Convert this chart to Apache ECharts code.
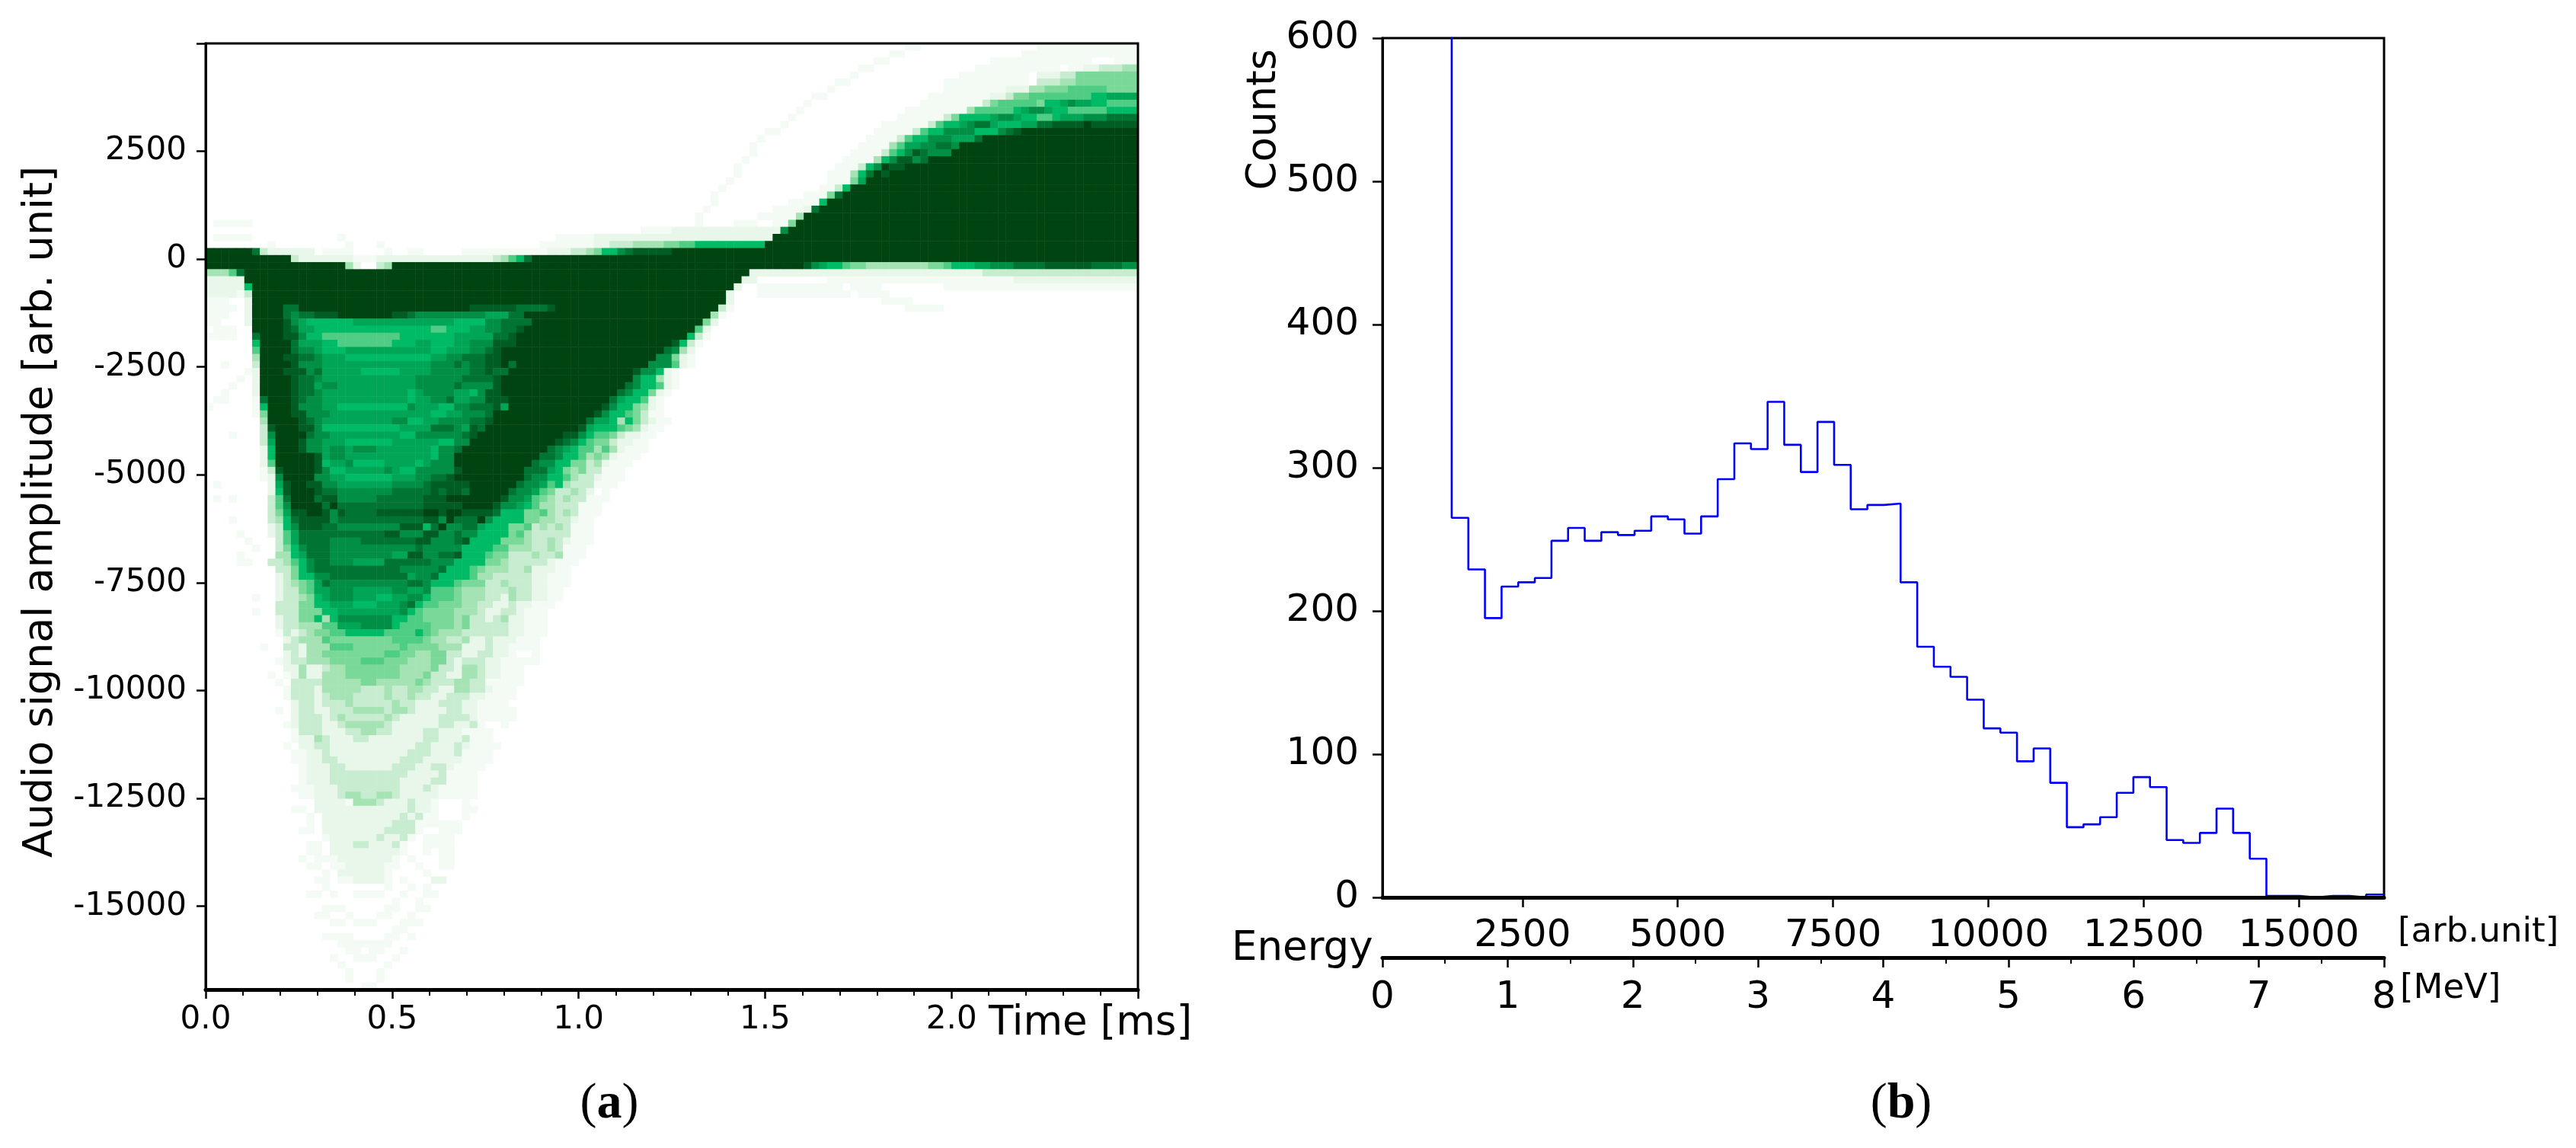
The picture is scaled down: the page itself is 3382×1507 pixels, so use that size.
<!DOCTYPE html>
<html>
<head>
<meta charset="utf-8">
<title>Audio signal and energy spectrum</title>
<script src="https://cdn.jsdelivr.net/npm/echarts@6/dist/echarts.min.js"></script>
<style>
  html, body { margin: 0; padding: 0; background: #fff; }
  #chart { width: 3382px; height: 1507px; }
</style>
</head>
<body>
<div id="chart"></div>
<script>
// --- panel (a): time / amplitude histogram ---
const timeBins = 120;
const ampBins = 134;
// each row: start column, shade, start column, shade ... a run lasts until the next start
const heatRowsTop = [
  [90,1,92,0,107,1],
  [88,1,90,0,105,1],
  [86,1,88,0,101,1,114,0,117,1],
  [84,1,86,0,99,1,110,0,111,1,113,2,115,3,118,4],
  [83,1,84,0,97,1,106,0,107,2,110,3,112,5],
  [81,1,83,0,95,1,106,0,107,3,110,4,112,5],
  [80,1,81,0,95,1,103,2,106,4,108,5,111,6,116,5],
  [78,1,80,0,93,1,101,2,103,3,104,5,106,6,114,7,116,8],
  [77,1,78,0,92,1,100,3,101,5,102,6,107,5,108,7,110,8,111,9,112,8,114,7,116,6],
  [76,1,77,0,90,1,98,4,99,6,104,7,105,8,106,9,108,8,109,7,111,6,116,7],
  [75,1,76,0,89,1,95,3,96,5,97,7,101,8,102,9,104,8,105,7,107,6,109,7,110,8,113,9,116,10],
  [74,1,75,0,87,1,93,3,94,6,95,7,97,8,98,9,99,10,101,8,102,7,105,8,107,10,109,11,113,12,114,11],
  [72,1,74,0,86,1,91,3,92,6,93,7,95,9,99,7,102,9,103,10,104,11,105,12],
  [71,1,72,0,85,1,89,3,90,6,91,7,93,9,96,8,99,10,100,12],
  [70,1,71,0,84,1,88,4,89,6,90,8,92,9,94,10,96,9,97,12],
  [70,1,71,0,83,1,87,3,88,6,89,7,90,9,91,11,92,10,93,9,96,12],
  [69,1,70,0,82,1,86,4,87,7,88,9,89,11,91,9,92,10,93,12],
  [68,1,69,0,81,1,84,3,85,7,86,9,87,12,88,11,90,12],
  [68,1,69,0,80,1,83,4,84,7,85,10,86,12,87,11,88,12],
  [67,1,68,0,80,1,83,5,84,8,85,12],
  [66,1,67,0,79,1,81,3,82,7,83,12],
  [65,1,66,0,77,1,80,5,81,10,82,12],
  [65,1,66,0,75,1,79,7,80,12],
  [64,1,65,0,73,1,77,2,78,10,79,12],
  [63,1,64,0,71,1,76,4,77,12],
  [1,1,6,0,63,1,64,0,68,1,71,0,73,1,75,5,76,12],
  [56,1,60,2,74,9,75,12],
  [1,1,6,0,17,1,18,0,45,1,50,2,73,12],
  [8,1,9,0,18,1,19,0,22,1,23,0,43,1,50,2,52,3,55,4,59,5,61,6,63,7,72,12]
];
const heatRowsBody = [
  [0,12,6,10,7,3,8,2,14,0,15,1,19,0,23,1,24,0,26,1,28,0,33,1,44,2,47,3,49,4,50,5,51,7,53,9,54,10,55,11,60,12],
  [0,12,11,3,12,2,19,1,22,2,37,3,38,4,39,6,40,7,41,10,42,12],
  [0,12,18,4,19,2,20,0,22,3,23,4,24,12,77,11,78,9,79,8,80,7,82,6,83,5,85,4,93,5,95,6,96,7,99,8,101,9,104,10,108,11,114,10,118,9],
  [0,4,3,6,4,10,5,12,70,2,100,3],
  [0,2,5,12,69,2,71,0,80,1,104,2],
  [0,2,5,7,6,12,68,2,69,0,71,1,82,0,83,1,87,0,95,1],
  [0,2,4,1,5,3,6,12,67,2,68,0,71,1,83,0,84,1,88,0],
  [0,1,3,0,5,2,6,12,67,2,68,0,87,1,91,0],
  [0,1,4,0,5,2,6,12,10,10,12,12,34,11,40,10,44,11,45,12,66,3,67,1,68,0,90,1,95,0],
  [0,1,3,0,5,2,6,12,10,10,11,9,12,10,14,11,17,12,24,11,26,10,27,9,36,8,39,10,41,12,65,4,66,1,67,0],
  [0,1,2,0,5,2,6,12,10,11,11,9,12,8,13,7,19,8,32,7,36,9,38,10,42,12,64,5,65,2,66,0],
  [1,1,4,0,6,12,10,11,11,10,12,8,14,7,29,6,31,7,34,8,36,9,38,10,40,11,41,12,63,6,64,2,65,0],
  [0,1,4,0,6,10,7,12,10,11,12,9,13,7,15,6,25,7,28,7,32,8,37,10,39,11,40,12,62,7,63,3,64,1,65,0],
  [6,7,7,12,10,12,11,10,12,8,15,7,17,6,24,7,27,8,29,7,32,8,34,9,37,11,40,12,60,11,61,7,62,3,63,1,64,0],
  [6,6,7,12,11,10,12,9,14,8,15,7,18,8,29,7,31,8,34,9,36,10,37,11,38,12,59,10,60,9,61,4,62,2,63,0],
  [6,4,7,12,10,11,12,10,14,9,15,8,18,7,29,8,31,9,33,10,36,11,38,12,58,9,60,5,61,2,62,1,63,0],
  [2,1,3,0,6,3,7,12,11,11,12,9,15,8,29,9,32,10,33,9,34,10,36,11,38,12,39,10,40,12,57,9,60,6,61,2,62,1,63,0],
  [5,1,6,2,7,12,10,11,13,9,14,10,15,8,20,7,25,8,29,9,34,10,36,11,37,10,39,12,55,11,56,9,58,7,59,2,60,1,61,0],
  [4,1,5,0,6,2,7,12,11,11,12,10,14,9,15,8,27,9,33,10,37,11,38,12,55,9,56,7,58,4,59,2,60,1,61,0],
  [3,1,4,0,6,2,7,12,11,11,12,10,14,8,15,9,17,8,27,9,32,10,33,9,37,11,38,12,54,10,55,9,56,7,58,6,59,2,60,1,61,0],
  [2,1,3,0,6,2,7,12,11,11,12,10,14,9,15,8,26,7,27,8,28,9,32,8,34,7,35,9,36,11,38,12,53,10,54,9,55,7,57,5,58,2,59,1,60,0],
  [1,1,3,0,6,1,7,10,8,12,11,11,12,10,13,9,15,8,26,7,27,8,29,9,31,10,32,8,34,9,36,11,39,12,52,10,53,8,54,7,56,6,57,2,58,1,59,0],
  [0,1,1,0,6,1,7,7,8,12,11,11,12,9,15,8,17,7,26,9,27,8,30,7,32,9,34,10,37,11,38,8,39,12,51,11,52,9,53,7,55,5,56,4,57,2,58,1,59,0],
  [6,1,7,5,8,12,11,11,13,9,16,8,29,7,31,8,33,9,36,10,37,12,50,11,51,9,52,7,54,6,55,5,56,3,57,1,59,0],
  [7,4,8,12,12,11,13,10,14,9,15,8,24,9,26,7,28,8,30,9,34,10,36,11,37,12,49,10,50,8,52,7,53,4,54,7,55,5,56,3,57,2,58,1,60,0],
  [7,3,8,11,9,12,12,11,14,9,15,7,25,8,29,10,32,9,33,8,34,11,35,10,36,12,48,11,49,8,50,7,53,6,54,5,55,4,56,2,57,1,59,0],
  [3,1,4,0,7,3,8,9,9,12,12,12,13,10,14,9,16,8,25,7,27,9,33,10,34,11,35,12,46,11,48,9,49,7,50,6,52,5,53,3,54,2,56,1,58,0],
  [7,3,8,8,9,12,12,11,13,9,15,8,18,7,24,8,30,7,32,9,34,12,45,11,46,10,47,9,48,7,49,6,50,5,52,3,53,2,55,1,57,0],
  [7,2,8,7,9,12,12,11,13,9,15,8,16,9,18,8,19,9,22,8,29,7,30,9,32,10,33,12,44,10,45,9,46,8,47,7,48,6,50,4,51,6,52,4,53,2,54,1,57,0],
  [7,2,8,7,9,12,14,11,15,8,16,9,18,8,29,7,30,9,32,12,43,10,45,9,46,7,48,6,49,4,50,5,51,4,52,2,53,1,56,0],
  [7,2,8,6,9,12,14,11,15,7,16,8,18,9,19,7,23,8,27,7,28,8,29,9,32,12,42,10,43,9,45,7,47,5,49,3,50,4,51,2,52,1,55,0],
  [7,1,8,3,9,11,10,12,14,11,15,9,16,7,18,8,23,9,24,8,25,7,27,9,32,11,33,12,41,10,44,8,45,7,46,5,47,4,48,5,49,3,51,1,54,0]
];
const heatRowsCore = [
  [7,1,8,2,9,9,10,12,14,9,16,8,18,7,24,8,27,9,29,10,31,11,32,12,41,10,42,9,44,7,46,6,47,4,48,3,50,2,51,1,54,0],
  [1,1,2,0,8,2,9,8,10,11,11,12,13,11,15,9,17,8,24,9,28,10,29,11,34,12,40,10,41,9,43,8,44,6,45,7,46,4,47,3,50,1,53,0],
  [8,2,9,7,10,11,11,12,14,11,15,10,17,9,24,10,29,11,30,10,31,11,33,10,34,12,39,10,40,9,42,8,43,6,44,5,45,3,47,4,48,3,49,2,50,0,51,1,52,0],
  [1,1,2,0,3,1,4,0,8,3,9,6,10,10,11,12,14,10,15,11,17,9,22,10,28,11,31,12,38,11,39,9,41,8,42,6,43,5,44,4,45,3,46,4,47,3,49,1,52,0],
  [8,3,9,6,10,9,11,12,15,10,16,12,17,10,28,11,33,12,37,11,38,9,40,8,41,7,42,6,43,4,45,3,48,1,51,0],
  [8,3,9,5,10,8,11,11,13,12,15,11,16,9,17,11,18,10,22,11,28,12,30,11,31,12,33,11,37,10,38,7,41,5,43,6,44,4,45,3,46,4,47,3,48,1,51,0],
  [3,1,4,0,8,3,9,4,10,7,11,10,12,11,16,9,17,10,28,11,30,9,31,12,32,10,35,12,36,9,37,7,41,5,43,4,45,3,47,2,48,1,50,0],
  [8,2,9,3,10,7,11,9,12,11,15,10,17,9,25,11,28,7,29,10,30,12,31,9,33,10,35,8,36,7,39,5,41,6,42,3,43,4,44,3,45,4,46,3,47,1,50,0],
  [4,1,5,0,8,2,9,3,10,6,11,8,12,10,23,11,25,9,28,11,30,9,32,10,33,9,35,7,39,5,40,6,41,4,42,3,47,1,50,0],
  [5,1,6,0,9,3,10,6,11,8,12,10,16,9,20,10,27,11,29,9,32,10,33,11,34,7,38,5,41,4,42,3,44,4,45,3,46,2,47,1,50,0],
  [6,1,7,0,9,3,10,5,11,7,12,9,13,10,16,9,27,10,28,9,33,7,37,6,39,4,42,3,44,4,45,3,46,1,49,0],
  [4,1,5,0,9,4,11,7,12,8,13,10,16,9,24,8,26,11,28,9,30,10,32,11,33,7,36,6,37,5,39,3,42,4,43,3,45,4,46,1,49,0],
  [4,1,6,0,8,3,10,4,11,6,12,7,13,9,14,10,16,9,19,8,23,10,29,9,32,7,36,5,38,4,39,3,44,2,45,1,48,0],
  [9,3,11,5,12,7,13,9,14,10,25,9,30,10,31,7,34,6,35,5,36,4,39,3,41,4,42,2,45,1,47,0],
  [9,2,10,3,11,5,12,7,14,9,16,10,26,8,27,9,29,10,30,7,34,6,35,4,37,3,42,2,44,1,47,0],
  [9,2,10,3,11,4,12,5,13,6,14,8,15,10,16,9,26,10,28,9,29,7,32,6,33,5,36,3,38,4,39,3,42,2,44,1,47,0],
  [9,2,10,3,12,5,13,6,14,8,16,9,19,8,24,9,26,8,28,9,29,6,32,5,33,4,36,3,39,4,40,3,42,2,44,1,46,0],
  [6,1,7,0,9,2,10,3,12,4,13,5,14,7,15,8,16,9,19,8,22,7,24,8,26,9,28,7,29,6,32,5,33,4,36,3,38,2,39,4,40,3,42,2,44,1,46,0],
  [9,3,12,5,14,7,16,8,19,7,22,8,25,9,26,10,27,7,28,6,30,5,33,4,35,3,37,2,39,3,40,2,42,1,45,0],
  [6,1,7,0,9,3,12,5,15,7,17,8,25,9,26,7,27,6,28,5,32,4,35,3,36,2,38,3,40,2,41,1,44,0],
  [9,2,10,3,12,5,14,7,15,4,16,7,17,9,24,7,26,6,28,5,32,4,33,5,34,3,36,2,37,3,38,4,39,2,41,1,44,0],
  [9,2,10,3,12,4,15,6,17,8,20,9,24,7,25,6,29,5,32,4,33,5,34,3,39,2,41,1,44,0],
  [9,1,10,3,11,2,12,3,13,4,14,5,16,6,18,7,23,6,27,7,28,6,29,5,30,4,33,3,39,2,41,1,44,0],
  [10,2,11,3,12,4,15,6,16,5,24,6,28,5,29,4,31,3,33,4,34,2,36,3,37,2,40,1,43,0],
  [7,1,8,0,10,3,12,2,13,4,16,6,19,5,25,6,26,5,30,4,33,2,36,3,37,2,39,1,43,0],
  [10,2,11,3,12,2,13,4,15,5,23,6,25,5,27,4,29,5,31,3,33,2,35,3,37,2,39,1,40,0,42,1,43,0],
  [9,1,10,2,11,3,13,4,16,5,20,6,23,5,26,4,29,5,31,3,32,2,33,3,36,2,38,1,43,0],
  [10,2,12,4,13,2,15,3,16,4,18,5,25,4,29,5,30,3,32,2,33,4,35,3,36,2,38,1,41,0],
  [8,1,9,0,10,1,11,2,12,4,13,2,15,4,18,5,25,4,28,5,29,3,31,2,33,4,35,3,36,2,38,1,41,0],
  [9,1,10,0,11,3,15,4,20,5,22,4,27,5,28,4,29,3,32,4,34,3,36,1,41,0]
];
const heatRowsTail = [
  [10,1,11,3,14,2,15,4,20,3,23,4,24,3,26,4,28,3,30,2,32,4,34,3,36,2,37,1,40,0],
  [10,1,11,3,14,2,15,3,16,4,19,3,23,4,24,3,26,4,27,3,29,2,31,3,34,2,36,1,40,0],
  [11,2,12,3,14,2,15,3,18,4,19,3,24,4,25,3,27,2,30,3,33,2,35,1,39,0],
  [9,1,10,0,11,2,12,3,14,2,16,3,19,4,23,3,24,4,26,3,27,2,31,3,33,2,35,1,40,0],
  [11,2,12,3,15,2,16,3,17,4,18,3,23,4,24,3,25,2,30,3,34,2,35,1,40,0],
  [10,1,11,2,12,3,15,2,17,3,18,4,23,3,24,2,30,3,32,2,34,3,35,1,36,0,38,1,39,0],
  [11,1,12,3,15,2,18,3,20,4,22,3,24,2,28,3,30,2,33,1,37,0],
  [11,1,12,2,14,4,15,3,16,2,19,3,21,2,28,3,30,2,33,3,34,1,37,0],
  [10,1,11,0,12,2,14,3,16,2,27,3,29,2,32,3,33,2,34,1,38,0],
  [11,1,13,2,15,3,16,2,26,3,29,2,32,3,33,1,37,0],
  [11,1,13,2,15,3,17,2,25,3,28,2,33,1,37,0],
  [12,1,13,2,16,3,18,2,24,3,27,2,29,3,31,2,32,1,36,0],
  [12,1,13,2,16,3,22,3,26,2,30,3,31,1,35,0],
  [12,1,13,2,16,3,25,2,29,3,31,1,35,0],
  [11,1,14,2,17,3,25,2,28,3,29,2,30,1,35,0],
  [12,1,14,2,17,3,18,4,20,3,22,4,24,3,25,2,30,1,35,0],
  [14,2,18,1,19,4,22,3,23,2,26,3,27,2,29,1,30,0,33,1,34,0],
  [11,1,13,0,14,2,26,3,27,2,29,1,30,0,33,1,35,0],
  [13,1,14,0,15,2,25,3,26,2,27,3,28,1,30,0,33,1,34,0],
  [13,1,14,0,15,2,24,3,27,1,33,0],
  [12,1,14,0,15,2,23,3,27,1,28,0,30,1,33,0],
  [15,1,16,2,22,3,23,2,25,3,26,1,27,0,28,1,32,0],
  [13,1,15,0,16,2,19,3,21,2,24,3,25,1,26,0,28,1,32,0],
  [13,1,15,0,16,2,25,1,26,0,28,1,29,0,30,1,32,0],
  [12,1,13,0,14,1,17,2,24,1,25,0,26,1,27,0,30,1,32,0],
  [13,1,15,0,16,1,18,2,23,1,25,0,27,1,28,0,30,1,32,0],
  [15,1,16,0,17,2,23,1,24,0,28,1,29,0],
  [14,1,16,0,17,1,19,2,23,1,24,0,25,1,26,0,29,2,31,0],
  [15,1,16,0,23,1,24,0,26,1,27,0,28,1,29,0],
  [13,1,15,0,16,1,17,0,19,1,23,0,25,1,26,0,28,1,30,0],
  [24,1,25,0,27,1,28,0],
  [15,1,18,0,23,1,25,0,27,1,29,0],
  [14,1,16,0,18,1,19,0,22,1,24,0,26,1,27,0],
  [16,1,18,0,19,1,22,0,25,1,28,0],
  [24,1,26,0],
  [15,1,19,0,23,1,25,0,26,1,27,0],
  [17,1,24,0],
  [18,1,20,0,21,1,23,0,25,1,26,0],
  [16,1,17,0,19,1,22,0,24,1,25,0],
  [17,1,18,0,23,1,24,0],
  [18,1,19,0,22,1,23,0],
  [18,1,19,0,22,1,23,0],
  [20,1,22,0]
];
const ampTicks = [5000, 2500, 0, -2500, -5000, -7500, -10000, -12500, -15000];
const ampLabels = [2500, 0, -2500, -5000, -7500, -10000, -12500, -15000];
const shadeColors = ['#f4fbf4', '#e8f7ea', '#c8ecd0', '#a5e3b5', '#7ad899', '#4fcd84',
  '#00bb66', '#00a656', '#008f45', '#007533', '#005d24', '#004412'];

// --- panel (b): energy spectrum ---
const binStart = 1360;
const binWidth = 267.7;
const spikeTop = 1500;
const counts = [265, 229, 195, 217, 220, 223, 249, 258, 249, 255, 253, 256, 266, 264, 254, 266,
  292, 317, 313, 346, 316, 297, 332, 302, 271, 274, 275, 220, 175, 161, 154, 138, 118, 115, 95,
  104, 80, 49, 51, 56, 73, 84, 77, 40, 38, 45, 62, 45, 27, 1, 1, 0, 1, 1, 0, 2, 2];
const arbTicks = [2500, 5000, 7500, 10000, 12500, 15000];

// build the heatmap triples from the run lists
const heatRows = heatRowsTop.concat(heatRowsBody, heatRowsCore, heatRowsTail);
const heatData = [];
heatRows.forEach((runs, row) => {
  for (let i = 0; i < runs.length; i += 2) {
    const end = i + 2 < runs.length ? runs[i + 2] : timeBins;
    if (!runs[i + 1]) continue;
    for (let col = runs[i]; col < end; col++) heatData.push([col, row, runs[i + 1]]);
  }
});

const histLine = [[binStart, spikeTop]];
counts.forEach((c, i) => histLine.push([binStart + i * binWidth, c]));
histLine.push([16372, counts[counts.length - 1]]);

const sans = '"DejaVu Sans"';
const black = '#000';
const tick = (length, width) => ({ show: true, length: length, lineStyle: { color: black, width: width } });
const axisLine = width => ({ show: true, onZero: false, lineStyle: { color: black, width: width } });

// plain text placed around the panels
const label = (text, x, y, size, extra) => ({
  type: 'text', x: x, y: y, z: 10, rotation: (extra && extra.rotation) || 0,
  style: {
    text: text, fill: black, font: size + 'px ' + sans,
    align: (extra && extra.align) || 'left', verticalAlign: 'middle'
  }
});
const caption = (letter, x, y) => ({
  type: 'text', x: x, y: y, z: 10,
  style: {
    text: '({b|' + letter + '})', fill: black, font: '66px "Liberation Serif"',
    align: 'center', verticalAlign: 'middle',
    rich: { b: { fontFamily: 'Liberation Serif', fontWeight: 'bold', fontSize: 66, fill: black } }
  }
});

const chart = echarts.init(document.getElementById('chart'), null, { renderer: 'canvas' });
chart.setOption({
  backgroundColor: '#fff',
  animation: false,
  grid: [
    { left: 270, top: 57, width: 1224, height: 1242, show: true, z: 3, borderColor: black, borderWidth: 3, backgroundColor: 'transparent' },
    { left: 1815, top: 50, width: 1315, height: 1128, show: true, z: 3, borderColor: black, borderWidth: 3, backgroundColor: 'transparent' },
    { left: 1815, top: 1256, width: 1315, height: 1 }
  ],
  xAxis: [
    {
      gridIndex: 0, type: 'value', min: 0, max: 2.5, interval: 0.5, z: 5,
      axisLine: axisLine(5), axisTick: tick(12, 2.5),
      minorTick: { show: true, splitNumber: 5, length: 8, lineStyle: { color: black, width: 2 } },
      splitLine: { show: false },
      axisLabel: {
        color: black, fontFamily: sans, fontSize: 42, margin: 19, showMinLabel: true, hideOverlap: false,
        formatter: v => (v >= 2.5 ? '' : v.toFixed(1))
      }
    },
    { gridIndex: 0, type: 'category', show: false, data: Array.from({ length: timeBins }, (_, i) => i) },
    {
      gridIndex: 1, type: 'value', min: 245, max: 16372, z: 5,
      axisLine: axisLine(5),
      axisTick: Object.assign(tick(13, 2.5), { customValues: arbTicks }),
      splitLine: { show: false },
      axisLabel: { color: black, fontFamily: sans, fontSize: 50, margin: 26, customValues: arbTicks, formatter: v => String(v) }
    },
    {
      gridIndex: 2, type: 'value', min: 0, max: 8, interval: 1, z: 5,
      axisLine: axisLine(5), axisTick: tick(13, 2.5),
      minorTick: { show: true, splitNumber: 2, length: 8, lineStyle: { color: black, width: 2 } },
      splitLine: { show: false },
      axisLabel: { color: black, fontFamily: sans, fontSize: 50, margin: 28, showMinLabel: true, showMaxLabel: true, formatter: v => String(v) }
    }
  ],
  yAxis: [
    {
      gridIndex: 0, type: 'value', min: -16931, max: 5000, z: 5,
      axisLine: axisLine(3),
      axisTick: Object.assign(tick(12, 2.5), { customValues: ampTicks }),
      splitLine: { show: false },
      axisLabel: { color: black, fontFamily: sans, fontSize: 42, margin: 25, padding: [5, 0, 0, 0], customValues: ampLabels, formatter: v => String(v) }
    },
    { gridIndex: 0, type: 'category', show: false, inverse: true, data: Array.from({ length: ampBins }, (_, i) => i) },
    {
      gridIndex: 1, type: 'value', min: 0, max: 600, interval: 100, z: 5,
      axisLine: axisLine(3), axisTick: tick(13, 2.5),
      splitLine: { show: false },
      axisLabel: { color: black, fontFamily: sans, fontSize: 50, margin: 31, padding: [5, 0, 0, 0], showMaxLabel: true, showMinLabel: true }
    },
    { gridIndex: 2, type: 'value', show: false, min: 0, max: 1 }
  ],
  visualMap: {
    show: false, type: 'continuous', seriesIndex: 0, dimension: 2,
    min: 1, max: shadeColors.length, inRange: { color: shadeColors }
  },
  series: [
    {
      type: 'heatmap', xAxisIndex: 1, yAxisIndex: 1, data: heatData, progressive: 0,
      itemStyle: { borderWidth: 0 }, emphasis: { disabled: true }
    },
    {
      type: 'line', xAxisIndex: 2, yAxisIndex: 2, data: histLine, step: 'end', showSymbol: false, symbol: 'none',
      clip: true, z: 4, lineStyle: { color: '#0000ff', width: 2.6 }
    }
  ],
  graphic: [
    label('Audio signal amplitude [arb. unit]', 54, 672, 54, { rotation: Math.PI / 2, align: 'center' }),
    label('Time [ms]', 1298, 1344, 53),
    caption('a', 800, 1450),
    label('Counts', 1660, 157, 53, { rotation: Math.PI / 2, align: 'center' }),
    label('Energy', 1617, 1246, 53),
    label('[arb.unit]', 3148, 1224, 45),
    label('[MeV]', 3151, 1298, 45),
    caption('b', 2496, 1450)
  ]
});
</script>
</body>
</html>
